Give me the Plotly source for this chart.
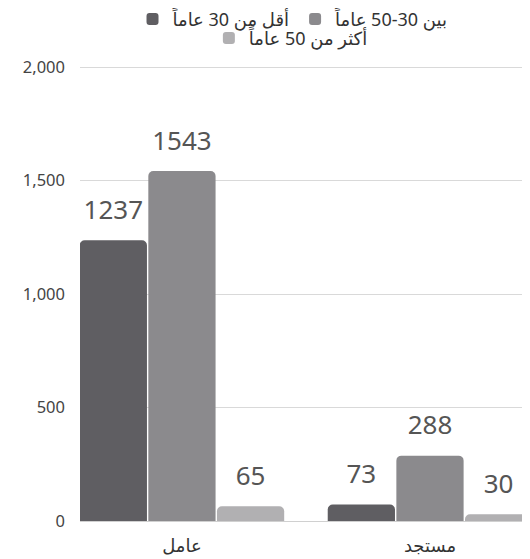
import plotly.graph_objects as go

categories = ["عامل", "مستجد"]
series_names = ["أقل من 30 عاماً", "بين 30-50 عاماً", "أكثر من 50 عاماً"]
under_30 = [1237, 73]
between_30_50 = [1543, 288]
over_50 = [65, 30]
y_ticks = [0, 500, 1000, 1500, 2000]

colors = ["#5f5e62", "#8b8a8d", "#b1b0b2"]
values = [under_30, between_30_50, over_50]
legends = ["legend", "legend", "legend2"]

FONT = "Noto Sans, DejaVu Sans, sans-serif"

fig = go.Figure()
for i, (name, vals, col, lg) in enumerate(zip(series_names, values, colors, legends)):
    fig.add_trace(go.Bar(
        x=categories, y=vals, name=name,
        marker=dict(color=col, line=dict(width=0)),
        offsetgroup=str(i), alignmentgroup="a",
        legend=lg,
    ))
for i, vals in enumerate(values):
    fig.add_trace(go.Scatter(
        x=categories, y=vals, mode="markers+text",
        text=[str(v) for v in vals], textposition="top center",
        textfont=dict(size=26, color="#555555", family=FONT),
        marker=dict(size=22, opacity=0),
        offsetgroup=str(i), alignmentgroup="a",
        showlegend=False, hoverinfo="skip", cliponaxis=False,
    ))

fig.update_layout(
    width=546, height=559,
    margin=dict(l=72, r=0, t=57, b=46, autoexpand=False),
    paper_bgcolor="white", plot_bgcolor="white",
    barmode="group", bargap=0.17, bargroupgap=0.02,
    scattermode="group", scattergap=0.17,
    barcornerradius=5,
    font=dict(family=FONT, color="#444444", size=14),
    legend=dict(orientation="h", x=0.522, xref="container", xanchor="center",
                y=0.980, yanchor="middle", yref="container",
                font=dict(size=18, color="#333333"),
                traceorder="normal", bgcolor="rgba(0,0,0,0)"),
    legend2=dict(orientation="h", x=0.519, xref="container", xanchor="center",
                 y=0.946, yanchor="middle", yref="container",
                 font=dict(size=18, color="#333333"),
                 bgcolor="rgba(0,0,0,0)"),
    showlegend=True,
)

fig.update_xaxes(range=[-0.411, 1.5], showgrid=False, showline=True,
                 linecolor="#d0d0d0", linewidth=1, ticks="", automargin=False,
                 ticklabelstandoff=8,
                 tickfont=dict(size=18, color="#333333"))
fig.update_yaxes(range=[0, 2010], tickvals=y_ticks, tickformat=",",
                 showgrid=True, gridcolor="#d9d9d9", gridwidth=1, automargin=False,
                 zeroline=False, showline=False, ticks="", ticklabelstandoff=14,
                 tickfont=dict(size=16.5, color="#444444"))

fig.write_html("out.html")
